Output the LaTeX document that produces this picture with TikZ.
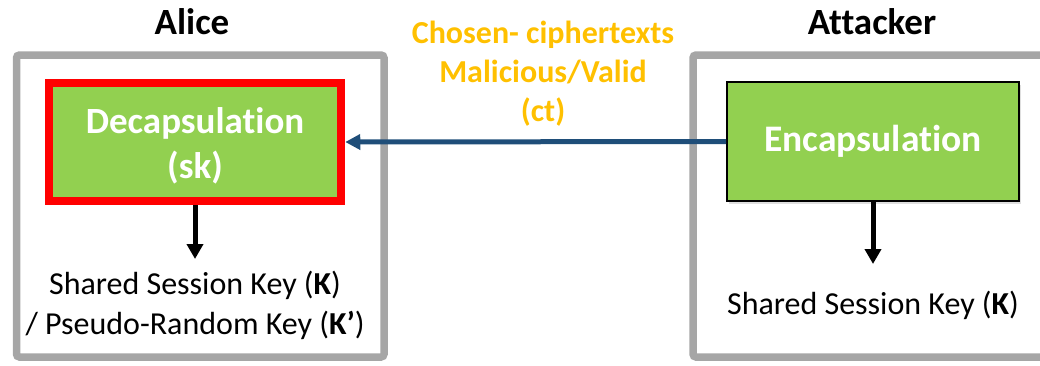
\documentclass[tikz,border=0pt]{standalone}
\usepackage{fontspec}
\setmainfont{Carlito}[Ligatures=NoCommon]
\usetikzlibrary{arrows.meta,shadows}
\definecolor{boxgray}{RGB}{166,166,166}
\definecolor{kgreen}{RGB}{146,208,80}
\definecolor{kred}{RGB}{255,0,0}
\definecolor{kblue}{RGB}{31,78,121}
\definecolor{korange}{RGB}{255,192,0}
\tikzset{
  container/.style={draw=boxgray,line width=7.5pt,rounded corners=3pt},
  greenbox/.style={fill=kgreen,text=white,font=\bfseries\fontsize{37}{45}\selectfont,align=center,
    inner sep=0pt,drop shadow={shadow xshift=2pt,shadow yshift=-3pt,opacity=0.25}},
  title/.style={font=\bfseries\fontsize{37}{40}\selectfont,text=black},
  keytext/.style={font=\fontsize{32}{40}\selectfont,align=center,text=black,inner sep=0pt},
  downarrow/.style={draw=black,line width=5pt,-{Triangle[length=15pt,width=16pt]}},
  ctarrow/.style={draw=kblue,line width=5pt,-{Triangle[length=15pt,width=15pt]}}
}
\begin{document}
\begin{tikzpicture}[x=1pt,y=-1pt]
\useasboundingbox (0,0) rectangle (1040,365);
\clip (0,0) rectangle (1040,365);
% containers
\draw[container] (16.5,55) rectangle (384,357);
\draw[container] (1060,55) -- (693,55) -- (693,357) -- (1060,357);
% titles
\node[title] (alice) at (192,22) {Alice};
\node[title] (attacker) at (872,22) {Attacker};
% boxes
\node[greenbox,draw=kred,line width=8pt,minimum width=292.5pt,minimum height=118.5pt] (dec) at (195,142) {};
\node[text=white,font=\bfseries\fontsize{37}{45}\selectfont,align=center] (dectext) at (195,146) {Decapsulation\\(sk)};
\node[greenbox,draw=black,line width=2pt,minimum width=292pt,minimum height=119pt,font=\bfseries\fontsize{37.5}{40}\selectfont] (enc) at (873,141.5) {Encapsulation};
% message label
\node[font=\bfseries\fontsize{32}{39}\selectfont,text=korange,align=center] (ct) at (543,74) {Chosen- ciphertexts\\Malicious/Valid\\(ct)};
% connector
\draw[ctarrow] (enc.west) -- (dec.east);
% keys
\node[keytext] (keyA) at (195,305) {Shared Session Key (\textbf{K})\\/ Pseudo-Random Key (\textbf{K’})};
\node[keytext] (keyB) at (873,305) {Shared Session Key (\textbf{K})};
\coordinate (tipA) at (195,259);
\coordinate (tipB) at (873,264);
\draw[downarrow] (dec.south) -- (tipA);
\draw[downarrow] (enc.south) -- (tipB);
\end{tikzpicture}
\end{document}
